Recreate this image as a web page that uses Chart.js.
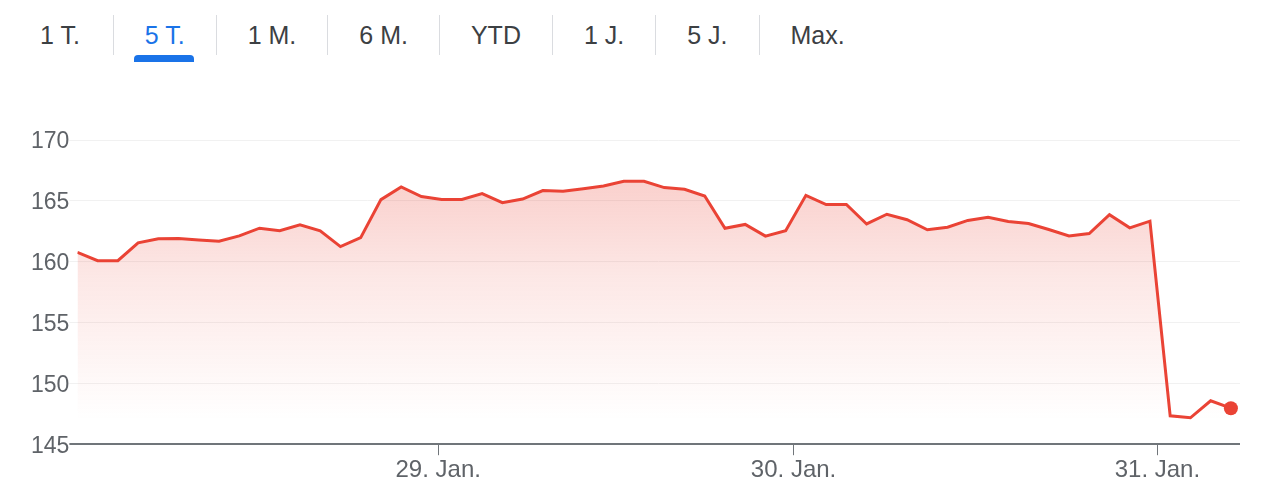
<!DOCTYPE html>
<html lang="de">
<head>
<meta charset="utf-8">
<title>5 T.</title>
<script src="https://cdn.jsdelivr.net/npm/chart.js@4.4.1/dist/chart.umd.min.js"></script>
<style>
  html, body { margin: 0; padding: 0; background: #fff; }
  body { width: 1280px; height: 500px; position: relative; overflow: hidden; font-family: 'Liberation Sans', Arial, sans-serif; }
  #tabs { position: absolute; left: 9px; top: 15px; display: flex; }
  .tab { position: relative; height: 40px; line-height: 40px; padding: 0 31px; font-size: 25px; color: #3c4043; white-space: nowrap; }
  .tab:first-child { padding-right: 33px; }
  .tab + .tab { border-left: 1px solid #dadce0; }
  .tab.active { color: #1a73e8; }
  .tab.active .bar { position: absolute; left: 20px; width: 60px; top: 40px; height: 7px; border-radius: 4px 4px 0 0; background: #1a73e8; }
  #wrap { position: absolute; left: 0; top: 0; width: 1280px; height: 500px; }
</style>
</head>
<body>
<div id="tabs"></div>
<div id="wrap"><canvas id="chart" width="1280" height="500"></canvas></div>
<script>
// range buttons
const ranges = ['1 T.', '5 T.', '1 M.', '6 M.', 'YTD', '1 J.', '5 J.', 'Max.'];
const activeRange = '5 T.';

// price per sample (5 trading days view, one sample per step)
const prices = [
  160.77, 160.08, 160.08, 161.55, 161.88, 161.90, 161.79, 161.68, 162.12, 162.75,
  162.54, 163.03, 162.54, 161.24, 161.98, 165.10, 166.14, 165.35, 165.12, 165.12,
  165.60, 164.85, 165.15, 165.84, 165.79, 166.00, 166.22, 166.60, 166.60, 166.09,
  165.95, 165.40, 162.75, 163.06, 162.10, 162.54, 165.45, 164.69, 164.70, 163.10,
  163.90, 163.45, 162.62, 162.83, 163.39, 163.64, 163.31, 163.14, 162.64, 162.12,
  162.31, 163.86, 162.78, 163.33, 147.33, 147.17, 148.57, 147.96
];

// day boundaries on the sample axis and their labels
const dayTicks = [17.83, 35.39, 53.37];
const dayLabels = ['29. Jan.', '30. Jan.', '31. Jan.'];
const xEnd = 57.45;

const yMin = 145, yMax = 170, yStep = 5;

const RED = '#ea4335';

document.getElementById('tabs').innerHTML = ranges.map(r =>
  `<div class="tab${r === activeRange ? ' active' : ''}">${r}${r === activeRange ? '<div class="bar"></div>' : ''}</div>`
).join('');

Chart.defaults.font.family = "'Liberation Sans', Arial, sans-serif";

function fillGradient(ctx) {
  const area = ctx.chart.chartArea;
  if (!area) return 'rgba(234,67,53,0.2)';
  const g = ctx.chart.ctx.createLinearGradient(0, area.top, 0, area.top + 280);
  g.addColorStop(0, 'rgba(234,67,53,0.30)');
  g.addColorStop(0.5, 'rgba(234,67,53,0.12)');
  g.addColorStop(1, 'rgba(234,67,53,0)');
  return g;
}

const points = prices.map((p, i) => ({ x: i, y: p }));
const last = points.length - 1;

new Chart(document.getElementById('chart'), {
  type: 'line',
  data: {
    datasets: [{
      data: points,
      borderColor: RED,
      borderWidth: 3,
      tension: 0,
      fill: 'start',
      backgroundColor: fillGradient,
      pointRadius: ctx => ctx.dataIndex === last ? 7 : 0,
      pointBackgroundColor: RED,
      pointBorderWidth: 0,
    }]
  },
  options: {
    responsive: false, animation: false,
    layout: { padding: { left: 31, right: 40, top: 140, bottom: 14 } },
    plugins: { legend: { display: false }, tooltip: { enabled: false } },
    scales: {
      x: {
        type: 'linear', min: 0, max: xEnd,
        afterBuildTicks: axis => { axis.ticks = dayTicks.map(v => ({ value: v })); },
        ticks: { color: '#5f6368', font: { size: 24 }, padding: 1, maxRotation: 0, autoSkip: false,
          callback: (v, i) => dayLabels[i] },
        grid: { drawOnChartArea: false, drawTicks: true, tickLength: 11, color: '#70757a', lineWidth: 1 },
        border: { display: false }
      },
      y: {
        min: yMin, max: yMax,
        ticks: { stepSize: yStep, color: '#5f6368', font: { size: 23 }, padding: 0, labelOffset: 2 },
        grid: {
          tickLength: 8,
          color: ctx => ctx.tick && ctx.tick.value === yMin ? '#70757a' : '#f1f1f1',
          lineWidth: ctx => ctx.tick && ctx.tick.value === yMin ? 2 : 1
        },
        border: { display: false }
      }
    }
  }
});
</script>
</body>
</html>
